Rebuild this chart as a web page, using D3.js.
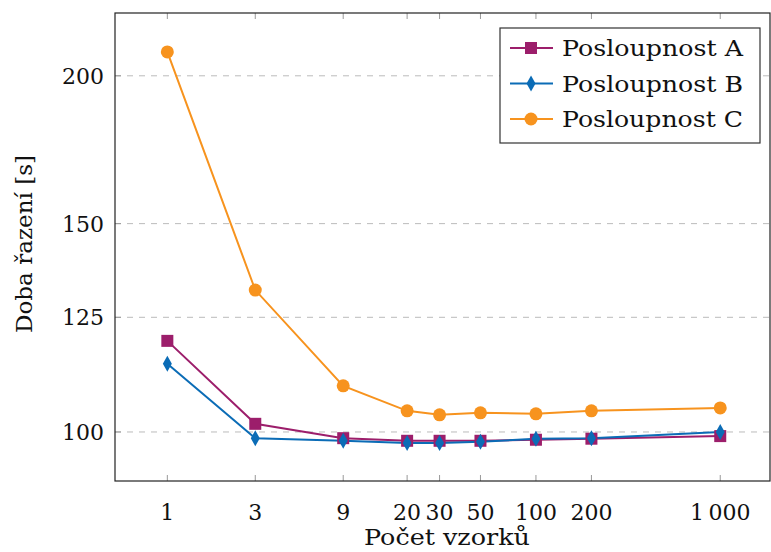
<!DOCTYPE html>
<html>
<head>
<meta charset="utf-8">
<script src="https://cdn.jsdelivr.net/npm/d3@7"></script>
<style>
  body { margin: 0; background: #fff; }
  text { font-family: "DejaVu Serif", serif; fill: #111; }
</style>
</head>
<body>
<div id="chart"></div>
<script>
// data
var samples = [1, 3, 9, 20, 30, 50, 100, 200, 1000];
var seriesA = [119.4, 101.6, 98.8, 98.3, 98.3, 98.3, 98.5, 98.7, 99.2];
var seriesB = [114.2, 98.8, 98.3, 97.9, 97.9, 98.1, 98.7, 98.8, 100.0];
var seriesC = [209.5, 131.8, 109.4, 104.2, 103.4, 103.8, 103.6, 104.2, 104.8];
var yTicks = [100, 125, 150, 200];
var seriesNames = ["Posloupnost A", "Posloupnost B", "Posloupnost C"];

var W = 771, H = 552;
var margin = { top: 13, right: 1, bottom: 71, left: 115 };
var width = W - margin.left - margin.right;
var height = H - margin.top - margin.bottom;

var svg = d3.select("#chart").append("svg")
    .attr("width", W).attr("height", H);
var g = svg.append("g")
    .attr("transform", "translate(" + margin.left + "," + margin.top + ")");

var x = d3.scaleLog().domain([0.52, 1862]).range([0, width]);
var y = d3.scaleLog().domain([90.9, 226]).range([height, 0]);

// grid
g.selectAll(".grid").data(yTicks).enter().append("line")
    .attr("x1", 0).attr("x2", width)
    .attr("y1", d => y(d)).attr("y2", d => y(d))
    .attr("stroke", "#bbb").attr("stroke-width", 1)
    .attr("stroke-dasharray", "6,6");

// ticks (inside, on all sides)
g.selectAll(".xt").data(samples).enter().append("line")
    .attr("x1", d => x(d)).attr("x2", d => x(d))
    .attr("y1", height).attr("y2", height - 6)
    .attr("stroke", "#999");
g.selectAll(".xt2").data(samples).enter().append("line")
    .attr("x1", d => x(d)).attr("x2", d => x(d))
    .attr("y1", 0).attr("y2", 6)
    .attr("stroke", "#999");
g.selectAll(".yt").data(yTicks).enter().append("line")
    .attr("x1", 0).attr("x2", 6)
    .attr("y1", d => y(d)).attr("y2", d => y(d))
    .attr("stroke", "#999");

// tick labels
var fmt = function (d) { return d >= 1000 ? "1\u2009000" : String(d); };
g.selectAll(".xl").data(samples).enter().append("text")
    .attr("x", d => x(d)).attr("y", 520 - margin.top)
    .attr("text-anchor", "middle")
    .style("font-size", "22px")
    .text(fmt);
g.selectAll(".yl").data(yTicks).enter().append("text")
    .attr("x", -11).attr("y", d => y(d) + 8)
    .attr("text-anchor", "end")
    .style("font-size", "22px")
    .text(d => d);

// axis titles
svg.append("text")
    .attr("x", 447).attr("y", 545)
    .attr("text-anchor", "middle")
    .attr("textLength", 166).attr("lengthAdjust", "spacingAndGlyphs")
    .style("font-size", "23px")
    .text("Počet vzorků");
svg.append("text")
    .attr("transform", "translate(32,244) rotate(-90)")
    .attr("text-anchor", "middle")
    .attr("textLength", 178).attr("lengthAdjust", "spacingAndGlyphs")
    .style("font-size", "23px")
    .text("Doba řazení [s]");

// series
var colors = ["#9c1e6b", "#0b6cb6", "#f7931e"];
var all = [seriesA, seriesB, seriesC];
var line = d3.line()
    .x((d, i) => x(samples[i]))
    .y(d => y(d));

var markers = [
  function (sel) { sel.append("rect").attr("x", -6).attr("y", -6).attr("width", 12).attr("height", 12); },
  function (sel) { sel.append("path").attr("d", "M0,-8L4.5,0L0,8L-4.5,0Z"); },
  function (sel) { sel.append("circle").attr("r", 6.5); }
];

all.forEach(function (vals, k) {
    g.append("path").datum(vals)
        .attr("d", line)
        .attr("fill", "none")
        .attr("stroke", colors[k])
        .attr("stroke-width", 2);
});
all.forEach(function (vals, k) {
    var m = g.selectAll(".m" + k).data(vals).enter().append("g")
        .attr("transform", (d, i) => "translate(" + x(samples[i]) + "," + y(d) + ")")
        .attr("fill", colors[k]);
    markers[k](m);
});

// frame
g.append("rect").attr("width", width).attr("height", height)
    .attr("fill", "none").attr("stroke", "#222").attr("stroke-width", 1.2);

// legend
var lg = svg.append("g").attr("transform", "translate(500,28)");
lg.append("rect").attr("width", 260).attr("height", 115)
    .attr("fill", "#fff").attr("stroke", "#333").attr("stroke-width", 1.2);
seriesNames.forEach(function (name, k) {
    var row = lg.append("g").attr("transform", "translate(0," + (20 + k * 35.5) + ")");
    row.append("line").attr("x1", 10).attr("x2", 53)
        .attr("stroke", colors[k]).attr("stroke-width", 2);
    var m = row.append("g").attr("transform", "translate(31,0)").attr("fill", colors[k]);
    markers[k](m);
    row.append("text").attr("x", 62).attr("y", 8)
        .attr("textLength", 181).attr("lengthAdjust", "spacingAndGlyphs")
        .style("font-size", "23px")
        .text(name);
});
</script>
</body>
</html>
